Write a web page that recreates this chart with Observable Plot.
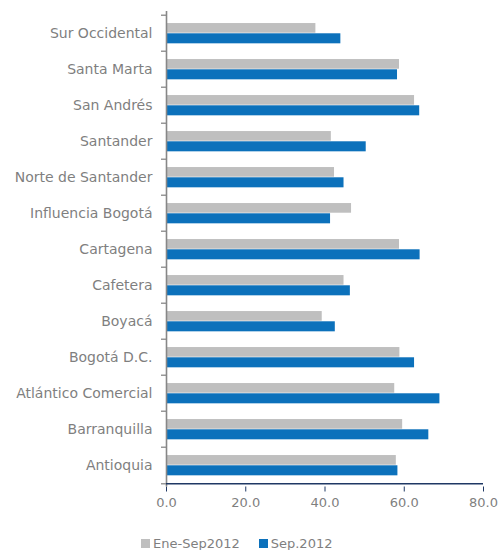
<!DOCTYPE html>
<html><head><meta charset="utf-8">
<script src="https://cdn.jsdelivr.net/npm/d3@7"></script>
<script src="https://cdn.jsdelivr.net/npm/@observablehq/plot@0.6"></script>
<style>
body{margin:0;background:#fff;font-family:"DejaVu Sans",sans-serif;}
#legend{display:flex;align-items:center;margin-left:141px;margin-top:16px;font-size:13px;color:#7f7f7f;height:14px;}
#legend .sw{width:9px;height:9px;display:inline-block;margin-right:3px;}
#legend .item{display:flex;align-items:center;margin-right:19px;}
</style>
</head><body><div id="chart"></div>
<div id="legend"></div>
<script>
const regions = ["Sur Occidental","Santa Marta","San Andrés","Santander","Norte de Santander","Influencia Bogotá","Cartagena","Cafetera","Boyacá","Bogotá D.C.","Atlántico Comercial","Barranquilla","Antioquia"];
const eneSep2012 = [37.7,58.8,62.6,41.6,42.4,46.7,58.8,44.8,39.3,58.9,57.6,59.6,58.0];
const sep2012 = [44.0,58.3,63.9,50.4,44.8,41.4,64.0,46.4,42.6,62.6,69.0,66.2,58.4];
const seriesNames = ["Ene-Sep2012","Sep.2012"];
const seriesColors = ["#BFBFBF","#0C71BB"];
const xTicks = [0,20,40,60,80];

const W = 498, H = 520, mT = 11, mB = 33.5, mL = 166, mR = 15;
const bw = (H - mT - mB) / regions.length;

const grayRows = regions.map((r,i)=>({region:r, value:eneSep2012[i], series:seriesNames[0]}));
const blueRows = regions.map((r,i)=>({region:r, value:sep2012[i], series:seriesNames[1]}));

const chart = Plot.plot({
  width: W, height: H,
  marginTop: mT, marginBottom: mB, marginLeft: mL, marginRight: mR,
  style: {fontFamily: "DejaVu Sans, sans-serif", background: "#fff", overflow: "visible"},
  x: {domain: [0, 80]},
  y: {domain: regions, padding: 0},
  marks: [
    Plot.barX(grayRows, {x: "value", y: "region", fill: seriesColors[0], insetTop: bw*0.22, insetBottom: bw*0.50}),
    Plot.barX(blueRows, {x: "value", y: "region", fill: seriesColors[1], insetTop: bw*0.50, insetBottom: bw*0.21}),
    Plot.axisY({tickSize: 0, tickPadding: 14, fontSize: 14, fill: "#7f7f7f", label: null}),
    Plot.axisX({ticks: xTicks, tickFormat: d3.format(".1f"), tickSize: 5, tickPadding: 6, fontSize: 13, fill: "#7f7f7f", stroke: "#1F3864", label: null}),
    Plot.ruleX([0], {stroke: "#878787", strokeWidth: 1.6}),
    Plot.ruleY(regions, {y: d => d, x1: 0, x2: 0, insetLeft: -5, dy: -bw/2, stroke: "#878787", strokeWidth: 1.3}),
    Plot.ruleY([regions[regions.length-1]], {y: d => d, x1: 0, x2: 0, insetLeft: -5, dy: bw/2, stroke: "#878787", strokeWidth: 1.3}),
    Plot.ruleY([regions[regions.length-1]], {y: d => d, x1: 0, x2: 80, dy: bw/2, stroke: "#1F3864", strokeWidth: 1.6})
  ]
});
document.getElementById("chart").appendChild(chart);

const legend = document.getElementById("legend");
seriesNames.forEach((n,i)=>{
  const it = document.createElement("span"); it.className="item";
  const sw = document.createElement("span"); sw.className="sw"; sw.style.background=seriesColors[i];
  it.appendChild(sw); it.appendChild(document.createTextNode(n));
  legend.appendChild(it);
});
</script>
</body></html>
